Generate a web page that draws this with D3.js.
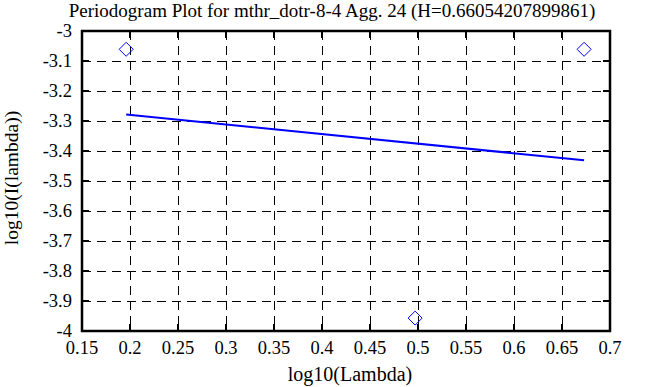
<!DOCTYPE html>
<html>
<head>
<meta charset="utf-8">
<script src="https://cdn.jsdelivr.net/npm/d3@7"></script>
<style>
  body { margin: 0; background: #fff; }
  text { font-family: "Liberation Serif", "DejaVu Serif", serif; fill: #000; }
</style>
</head>
<body>
<div id="graphic"></div>
<script>
// data
const title = "Periodogram Plot for mthr_dotr-8-4 Agg. 24 (H=0.66054207899861)";
const xTicks = [0.15, 0.2, 0.25, 0.3, 0.35, 0.4, 0.45, 0.5, 0.55, 0.6, 0.65, 0.7];
const yTicks = [-3, -3.1, -3.2, -3.3, -3.4, -3.5, -3.6, -3.7, -3.8, -3.9, -4];
const pointX = [0.196, 0.497, 0.673];
const pointY = [-3.061, -3.957, -3.061];
const fitX = [0.196, 0.673];
const fitY = [-3.278, -3.431];

const chart = {
  margin: { left: 82, right: 58, top: 31, bottom: 56 },
  outerWidth: 668,
  outerHeight: 387,
  parameters(){
    this.width = this.outerWidth - this.margin.left - this.margin.right;
    this.height = this.outerHeight - this.margin.top - this.margin.bottom;
  },
  createScales(){
    this.xScale = d3.scaleLinear().domain([0.15, 0.7]).range([0, this.width]);
    this.yScale = d3.scaleLinear().domain([-4, -3]).range([this.height, 0]);
  },
  drawPlot(){
    this.svg = d3.select("#graphic").append("svg")
      .attr("width", this.outerWidth)
      .attr("height", this.outerHeight);
    this.plot = this.svg.append("g")
      .attr("transform", `translate(${this.margin.left}, ${this.margin.top})`);
  },
  drawAxes(){
    const that = this;
    // grid lines
    const grid = this.plot.append("g").attr("class", "grid")
      .attr("stroke", "#000").attr("stroke-width", 1).attr("stroke-dasharray", "9,6");
    grid.selectAll(".vg").data(xTicks.slice(1, -1)).enter().append("line")
      .attr("x1", d => Math.round(that.xScale(d)) + 0.5).attr("x2", d => Math.round(that.xScale(d)) + 0.5)
      .attr("y1", 0).attr("y2", this.height);
    grid.selectAll(".hg").data(yTicks.slice(1, -1)).enter().append("line")
      .attr("y1", d => Math.round(that.yScale(d)) + 0.5).attr("y2", d => Math.round(that.yScale(d)) + 0.5)
      .attr("x1", 0).attr("x2", this.width);

    // ticks inward on all four sides
    const tickLen = 7;
    const ticks = this.plot.append("g").attr("stroke", "#000").attr("stroke-width", 2);
    xTicks.forEach(function(d){
      const x = Math.round(that.xScale(d));
      ticks.append("line").attr("x1", x).attr("x2", x).attr("y1", that.height).attr("y2", that.height - tickLen);
      ticks.append("line").attr("x1", x).attr("x2", x).attr("y1", 0).attr("y2", tickLen);
    });
    yTicks.forEach(function(d){
      const y = Math.round(that.yScale(d));
      ticks.append("line").attr("y1", y).attr("y2", y).attr("x1", 0).attr("x2", tickLen);
      ticks.append("line").attr("y1", y).attr("y2", y).attr("x1", that.width).attr("x2", that.width - tickLen);
    });

    // frame
    this.plot.append("rect")
      .attr("x", 0).attr("y", 0).attr("width", this.width).attr("height", this.height)
      .attr("fill", "none").attr("stroke", "#000").attr("stroke-width", 2.5);

    // tick labels
    this.plot.selectAll(".xl").data(xTicks).enter().append("text")
      .attr("x", d => that.xScale(d)).attr("y", this.height + 23)
      .attr("text-anchor", "middle").attr("font-size", 18.5)
      .text(d => d);
    this.plot.selectAll(".yl").data(yTicks).enter().append("text")
      .attr("x", -10).attr("y", d => that.yScale(d) + 6)
      .attr("text-anchor", "end").attr("font-size", 18.5)
      .text(d => d);

    // axis titles
    this.svg.append("text")
      .attr("x", 350).attr("y", 381)
      .attr("text-anchor", "middle").attr("font-size", 20)
      .text("log10(Lambda)");
    this.svg.append("text")
      .attr("transform", `translate(18, 178) rotate(-90)`)
      .attr("text-anchor", "middle").attr("font-size", 19.5)
      .text("log10(I(lambda))");
    this.svg.append("text")
      .attr("x", 332).attr("y", 17)
      .attr("text-anchor", "middle").attr("font-size", 19)
      .text(title);
  },
  drawData(){
    const that = this;
    const fit = fitX.map((x, i) => [x, fitY[i]]);
    this.plot.append("path")
      .datum(fit)
      .attr("fill", "none").attr("stroke", "#0000ff").attr("stroke-width", 2)
      .attr("d", d3.line().x(d => that.xScale(d[0])).y(d => that.yScale(d[1])));

    const s = 7;
    this.plot.selectAll(".pt").data(pointX).enter().append("path")
      .attr("fill", "none").attr("stroke", "#0000ff").attr("stroke-width", 1)
      .attr("d", function(d, i){
        const x = that.xScale(d), y = that.yScale(pointY[i]);
        return `M${x - s},${y}L${x},${y - s}L${x + s},${y}L${x},${y + s}Z`;
      });
  },
  draw(){
    this.parameters();
    this.createScales();
    this.drawPlot();
    this.drawAxes();
    this.drawData();
  }
};

chart.draw();
</script>
</body>
</html>
